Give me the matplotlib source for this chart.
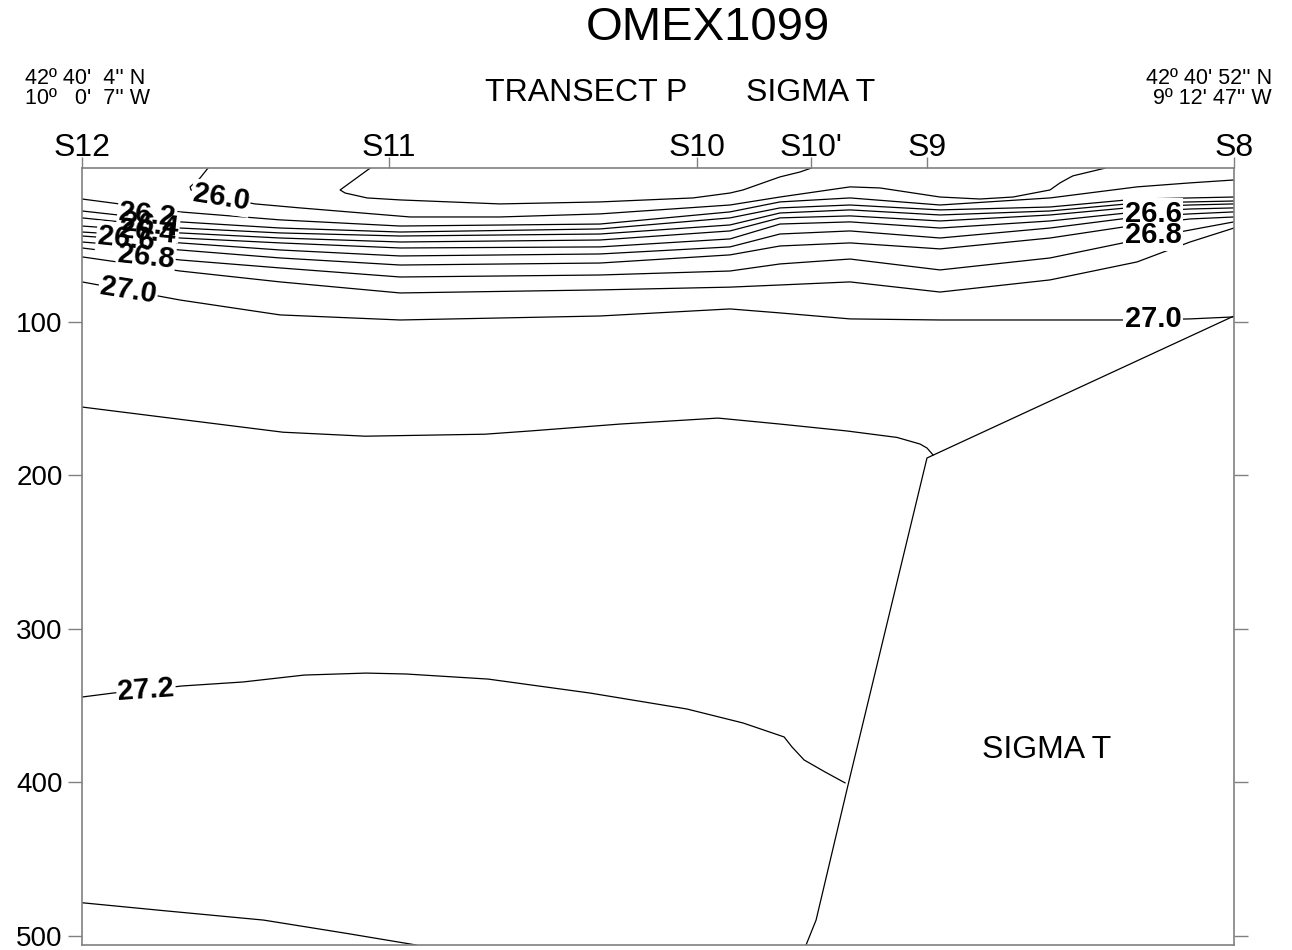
import matplotlib
matplotlib.use("Agg")
import matplotlib.pyplot as plt
from matplotlib import font_manager
import numpy as np

plt.rcParams['font.family'] = ['Liberation Sans', 'DejaVu Sans']

# Stations along transect P (distance in km from S12)
station_names = ["S12", "S11", "S10", "S10'", "S9", "S8"]
station_km = [0.0, 17.19, 34.43, 40.82, 47.31, 64.5]

# x grid (km) for the packed isopycnals 26.1 .. 27.0
xg = [0.0, 5.49, 11.09, 17.81, 29.00, 36.28, 39.08, 43.00, 48.04, 54.20, 59.07, 62.04, 64.50]

# depth (m) of each sigma-t level on xg
sig_26_1 = [20.1, 28.5, 33.7, 37.7, 36.4, 28.5, 22.0, 19.4, 24.0, 19.4, 12.2, 9.6, 7.7]
sig_26_2 = [27.9, 35.0, 39.0, 41.6, 39.6, 32.4, 25.9, 24.0, 27.2, 25.3, 20.1, 19.4, 18.8]
sig_26_3 = [32.4, 39.0, 42.2, 44.2, 42.9, 37.0, 29.2, 27.2, 30.5, 27.9, 22.7, 22.0, 21.4]
sig_26_4 = [37.7, 42.2, 45.5, 48.1, 46.8, 40.9, 32.4, 31.1, 34.4, 30.5, 25.3, 24.0, 23.3]
sig_26_5 = [41.6, 45.5, 48.7, 52.0, 51.3, 46.1, 36.4, 35.0, 39.0, 34.4, 28.5, 26.6, 25.9]
sig_26_6 = [44.2, 48.7, 53.3, 57.2, 55.9, 51.3, 42.9, 40.9, 45.5, 39.0, 31.8, 29.8, 28.5]
sig_26_7 = [48.1, 53.3, 58.5, 63.1, 61.8, 56.5, 50.7, 48.7, 52.6, 45.5, 37.0, 33.1, 31.8]
sig_26_8 = [52.0, 59.8, 65.0, 70.9, 69.6, 67.0, 62.4, 59.2, 66.3, 58.5, 46.8, 40.3, 35.0]
sig_26_9 = [57.8, 67.0, 74.1, 81.3, 79.3, 77.5, 76.1, 74.1, 80.7, 72.8, 61.1, 48.1, 39.0]
sig_27_0 = [74.1, 85.9, 95.6, 98.9, 96.3, 91.7, 94.3, 98.2, 98.9, 98.9, 98.9, 98.2, 96.9]
upper_levels = [sig_26_1, sig_26_2, sig_26_3, sig_26_4, sig_26_5,
                sig_26_6, sig_26_7, sig_26_8, sig_26_9, sig_27_0]

# 26.0 isopycnal (outcrops at both ends)
s260_x = [7.05, 6.61, 6.05, 6.10, 7.84, 9.69, 12.21, 18.37, 23.40, 29.00, 36.28, 39.08,
          43.00, 44.68, 48.04, 50.28, 52.13, 54.20, 54.76, 55.32, 55.49, 57.28]
s260_d = [0.0, 6.4, 12.2, 14.2, 19.4, 23.3, 25.9, 31.8, 31.8, 29.8, 24.0, 18.8,
          12.2, 12.9, 18.8, 20.1, 18.8, 14.2, 9.6, 6.0, 5.0, 0.0]

# near-surface lens between S11 and S10'
lens_x = [16.13, 14.45, 14.73, 15.96, 17.81, 23.40, 29.00, 34.21, 36.28, 37.01, 39.08, 40.20, 40.82]
lens_d = [0.0, 14.2, 16.2, 19.4, 20.7, 23.3, 22.0, 19.4, 16.2, 14.2, 5.7, 2.5, 0.0]

# deeper isopycnals
s271_x = [0.0, 11.25, 15.85, 22.56, 25.08, 30.12, 35.61, 39.08, 42.83, 45.63, 46.92, 47.31, 47.65]
s271_d = [155.6, 172.0, 174.6, 173.3, 171.2, 166.7, 162.8, 166.7, 171.2, 175.4, 179.7, 182.3, 186.8]

s272_x = [0.0, 1.74, 3.58, 5.60, 9.01, 12.43, 15.90, 18.14, 22.73, 28.44, 33.87, 37.01,
          39.31, 39.75, 40.43, 41.60, 42.72]
s272_d = [344.5, 341.9, 339.9, 337.3, 334.7, 330.2, 328.9, 329.5, 332.8, 341.9, 352.3, 361.4,
          370.5, 377.0, 385.5, 393.3, 400.4]

s273_x = [0.0, 4.61, 10.17, 14.78, 18.70]
s273_d = [478.5, 483.7, 489.8, 498.4, 506.0]

# sea floor
bottom_x = [64.50, 47.31, 42.89, 41.10, 40.54]
bottom_d = [96.3, 188.8, 401.8, 489.8, 506.0]

# contour labels
lab_txt = ["26.0", "26.2", "26.4", "26.4", "26.6", "26.8", "27.0", "27.2", "26.6", "26.8", "27.0"]
lab_x = [7.78, 3.64, 3.80, 3.64, 2.46, 3.58, 2.58, 3.58, 59.97, 59.97, 59.97]
lab_d = [19.4, 30.5, 37.0, 41.6, 46.0, 57.8, 80.0, 339.9, 29.8, 43.8, 98.2]
lab_rot = [-9, -6, -6, -6, -6, -6, -9, 4, 0, 0, 0]

fig = plt.figure(figsize=(12.92, 9.5), dpi=100)
ax = fig.add_axes([0.0635, 0.0053, 0.8916, 0.8177])

lc = 'black'
lw = 0.9
for lev in upper_levels:
    ax.plot(xg, lev, color=lc, lw=lw, zorder=2)
ax.plot(s260_x, s260_d, color=lc, lw=lw, zorder=2)
ax.plot(lens_x, lens_d, color=lc, lw=lw, zorder=2)
ax.plot(s271_x, s271_d, color=lc, lw=lw, zorder=2)
ax.plot(s272_x, s272_d, color=lc, lw=lw, zorder=2)
ax.plot(s273_x, s273_d, color=lc, lw=lw, zorder=2)
ax.plot(bottom_x, bottom_d, color=lc, lw=lw, zorder=2)

# white gaps behind labels, then labels
for t, x, d, r in zip(lab_txt, lab_x, lab_d, lab_rot):
    ax.text(x, d, t, fontsize=21, fontweight='bold', color='white', rotation=r,
            ha='center', va='center', rotation_mode='anchor', zorder=3,
            bbox=dict(fc='white', ec='none', pad=1))
for t, x, d, r in zip(lab_txt, lab_x, lab_d, lab_rot):
    ax.text(x, d, t, fontsize=21, fontweight='bold', color='black', rotation=r,
            ha='center', va='center', rotation_mode='anchor', zorder=4)

ax.text(54.03, 379, "SIGMA T", fontsize=23, ha='center', va='center')

ax.set_xlim(0, 64.5)
ax.set_ylim(506, 0)

gray = '#808080'
for sp in ax.spines.values():
    sp.set_color(gray)
    sp.set_linewidth(1.2)

ax.set_yticks([100, 200, 300, 400, 500])
ax.tick_params(axis='y', left=True, right=True, direction='out', length=10,
               width=1.0, color=gray, labelsize=20, pad=4)
ax.set_xticks(station_km)
ax.set_xticklabels(station_names)
ax.tick_params(axis='x', top=True, bottom=False, labeltop=True, labelbottom=False,
               direction='out', length=8, width=1.0, color=gray, labelsize=23, pad=-4)

# header texts
fig.text(708 / 1292, 1 - 28 / 950, "OMEX1099", fontsize=34, ha='center', va='center')
fig.text(586 / 1292, 1 - 93 / 950, "TRANSECT P", fontsize=23, ha='center', va='center')
fig.text(811 / 1292, 1 - 93 / 950, "SIGMA T", fontsize=23, ha='center', va='center')

names = [f.name for f in font_manager.fontManager.ttflist]
cfam = 'Liberation Sans Narrow' if 'Liberation Sans Narrow' in names else 'Liberation Sans'
csize = 18 if cfam == 'Liberation Sans Narrow' else 15.5
fig.text(25 / 1292, 1 - 78 / 950, "42º 40'  4'' N", fontsize=csize, family=cfam, ha='left', va='center')
fig.text(25 / 1292, 1 - 98 / 950, "10º   0'  7'' W", fontsize=csize, family=cfam, ha='left', va='center')
fig.text(1272 / 1292, 1 - 78 / 950, "42º 40' 52'' N", fontsize=csize, family=cfam, ha='right', va='center')
fig.text(1272 / 1292, 1 - 98 / 950, "9º 12' 47'' W", fontsize=csize, family=cfam, ha='right', va='center')

fig.savefig("out.png", dpi=100, facecolor='white')
